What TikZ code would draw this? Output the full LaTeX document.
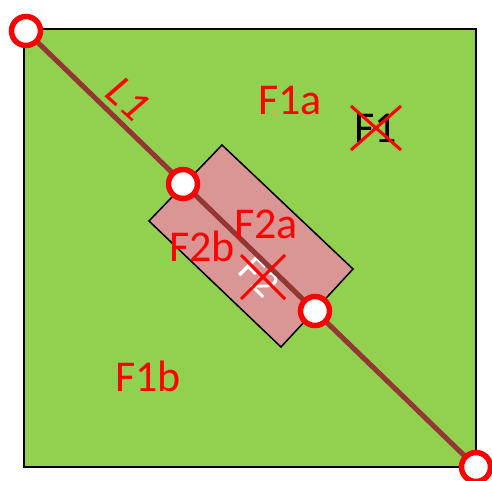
\documentclass[tikz,border=0pt]{standalone}
\usepackage{fontspec}
\setmainfont{Carlito}
\definecolor{facegreen}{HTML}{92D050}
\definecolor{facepink}{HTML}{D99694}
\definecolor{edgebrown}{HTML}{943634}
\tikzset{
	vert/.style={circle,draw=red,fill=white,line width=5.5pt,minimum size=29pt,inner sep=0pt},
	lbl/.style={text=red,font=\fontsize{44}{44}\selectfont,inner sep=0pt},
	cross/.style={red,line width=3pt}
}
\begin{document}
\begin{tikzpicture}[x=1pt,y=-1pt]
	\useasboundingbox (0,0) rectangle (492,481);
	% faces
	\draw[fill=facegreen,line width=1.5pt] (24,29) rectangle (476,467);
	\draw[fill=facepink,line width=1.5pt] (222,145)--(353,269)--(281,347)--(149,221)--cycle;
	\node[text=white,font=\fontsize{40}{40}\selectfont,rotate=-45,inner sep=0pt] (f2) at (259,277) {F2};
	\node[font=\fontsize{44}{44}\selectfont,inner sep=0pt] (f1) at (376,128) {F1};
	% edge
	\coordinate (p1) at (26,31);
	\coordinate (p2) at (183,184);
	\coordinate (p3) at (315,311);
	\coordinate (p4) at (476,467);
	\draw[edgebrown,line width=5pt] (p1)--(p4);
	\foreach \p in {p1,p2,p3,p4} \node[vert] at (\p) {};
	% deleted faces
	\draw[cross] (f1.center)++(-25,-22)--++(50,44) (f1.center)++(25,-22)--++(-50,44);
	\draw[cross] (263,277)++(-22,-22)--++(44,44) (263,277)++(22,-22)--++(-44,44);
	% labels
	\node[lbl] (f1a) at (290,101) {F1a};
	\node[lbl] (f1b) at (148,376) {F1b};
	\node[lbl] (f2a) at (266,224) {F2a};
	\node[lbl] (f2b) at (202,246) {F2b};
	\node[lbl,rotate=-42] (l1) at (128,99) {\itshape L1};
\end{tikzpicture}
\end{document}
